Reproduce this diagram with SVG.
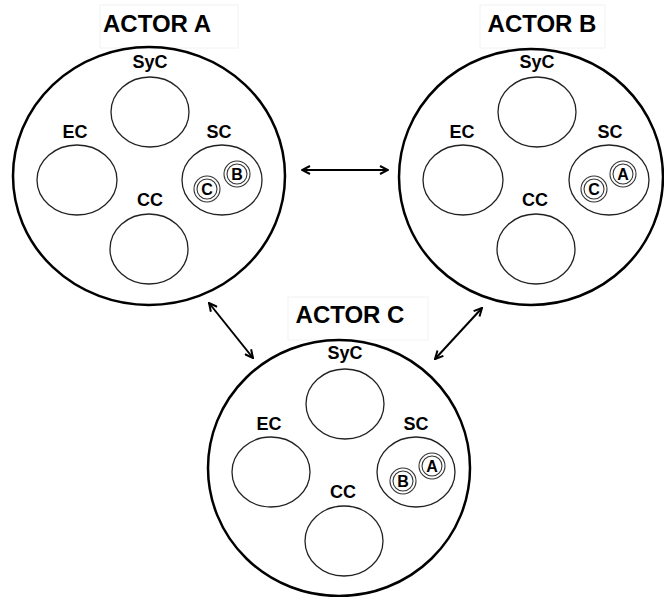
<svg xmlns="http://www.w3.org/2000/svg" width="664" height="597" viewBox="0 0 664 597">
  <defs>
    <style>
      .actor { fill: none; stroke: #000; stroke-width: 2.5; }
      .comp { fill: none; stroke: #222; stroke-width: 1.3; }
      .ring { fill: none; stroke: #333; stroke-width: 1.1; }
      .lbl { font-family: "Liberation Sans", Arial, sans-serif; font-weight: bold; font-size: 18px; text-anchor: middle; fill: #000; }
      .title { font-family: "Liberation Sans", Arial, sans-serif; font-weight: bold; font-size: 24px; text-anchor: middle; fill: #000; }
      .tag { font-family: "Liberation Sans", Arial, sans-serif; font-weight: bold; font-size: 16px; text-anchor: middle; fill: #000; }
      .frame { fill: none; stroke: #f2f2f2; stroke-width: 1; }
      .link { stroke: #000; stroke-width: 2; fill: none; marker-start: url(#head); marker-end: url(#head); }
    </style>
    <marker id="head" viewBox="0 0 10 10" refX="9" refY="5" markerWidth="10" markerHeight="10" markerUnits="userSpaceOnUse" orient="auto-start-reverse">
      <path d="M1,1 L9,5 L1,9" fill="none" stroke="#000" stroke-width="2" stroke-linejoin="miter"/>
    </marker>
    <!-- member token: double ring -->
    <g id="token">
      <circle r="13" class="ring"/>
      <circle r="10" class="ring"/>
    </g>
  </defs>

  <!-- Actor A -->
  <g id="actorA">
    <rect class="frame" x="100" y="5" width="138" height="43"/>
    <text class="title" x="157" y="32">ACTOR A</text>
    <ellipse class="actor" cx="149" cy="176" rx="136" ry="129"/>
    <text class="lbl" x="150" y="68">SyC</text>
    <ellipse class="comp" cx="150" cy="112" rx="39" ry="35"/>
    <text class="lbl" x="75" y="138">EC</text>
    <ellipse class="comp" cx="77" cy="180" rx="40" ry="35"/>
    <text class="lbl" x="219" y="138">SC</text>
    <ellipse class="comp" cx="222" cy="180" rx="40" ry="35"/>
    <text class="lbl" x="150" y="206">CC</text>
    <ellipse class="comp" cx="149" cy="249" rx="39" ry="35"/>
    <use href="#token" x="207" y="189"/>
    <text class="tag" x="207" y="195">C</text>
    <use href="#token" x="237" y="174"/>
    <text class="tag" x="237" y="180">B</text>
  </g>

  <!-- Actor B -->
  <g id="actorB">
    <rect class="frame" x="480" y="5" width="125" height="43"/>
    <text class="title" x="542" y="32">ACTOR B</text>
    <ellipse class="actor" cx="531" cy="177" rx="132" ry="128"/>
    <text class="lbl" x="537" y="68">SyC</text>
    <ellipse class="comp" cx="537" cy="112" rx="39" ry="35"/>
    <text class="lbl" x="462" y="138">EC</text>
    <ellipse class="comp" cx="463" cy="180" rx="40" ry="35"/>
    <text class="lbl" x="610" y="138">SC</text>
    <ellipse class="comp" cx="609" cy="180" rx="40" ry="35"/>
    <text class="lbl" x="535" y="206">CC</text>
    <ellipse class="comp" cx="536" cy="249" rx="39" ry="35"/>
    <use href="#token" x="594" y="189"/>
    <text class="tag" x="594" y="195">C</text>
    <use href="#token" x="623" y="174"/>
    <text class="tag" x="623" y="180">A</text>
  </g>

  <!-- Actor C -->
  <g id="actorC">
    <rect class="frame" x="288" y="297" width="140" height="43"/>
    <text class="title" x="350" y="323">ACTOR C</text>
    <ellipse class="actor" cx="339" cy="468" rx="131" ry="128"/>
    <text class="lbl" x="345" y="359">SyC</text>
    <ellipse class="comp" cx="345" cy="404" rx="39" ry="35"/>
    <text class="lbl" x="269" y="430">EC</text>
    <ellipse class="comp" cx="271" cy="472" rx="39" ry="35"/>
    <text class="lbl" x="416" y="430">SC</text>
    <ellipse class="comp" cx="416" cy="472" rx="39" ry="35"/>
    <text class="lbl" x="343" y="498">CC</text>
    <ellipse class="comp" cx="344" cy="541" rx="39" ry="35"/>
    <use href="#token" x="403" y="481"/>
    <text class="tag" x="403" y="487">B</text>
    <use href="#token" x="432" y="466"/>
    <text class="tag" x="432" y="472">A</text>
  </g>

  <!-- Two-way links between actors -->
  <g id="links">
    <line class="link" x1="302" y1="170" x2="388" y2="170"/>
    <line class="link" x1="209" y1="303" x2="253" y2="358"/>
    <line class="link" x1="482" y1="308" x2="435" y2="359"/>
  </g>
</svg>
